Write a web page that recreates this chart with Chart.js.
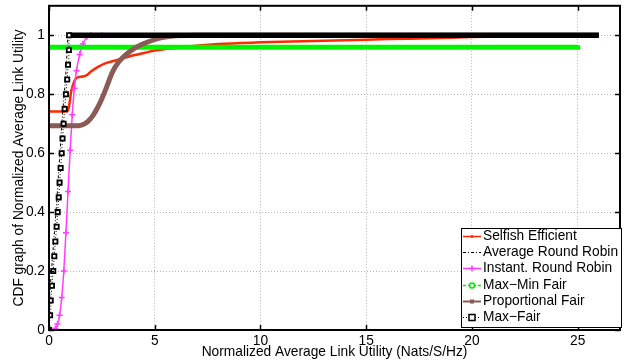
<!DOCTYPE html>
<html>
<head>
<meta charset="utf-8">
<script src="https://cdn.jsdelivr.net/npm/chart.js@4.4.0/dist/chart.umd.min.js"></script>
<style>
    html, body { margin: 0; padding: 0; background: #fff; }
    #wrap { width: 632px; height: 360px; }
</style>
</head>
<body>
<div id="wrap"><canvas id="cdfChart" width="632" height="360"></canvas></div>
<script>
// Series names (legend order)
const seriesNames = ['Selfish Efficient', 'Average Round Robin', 'Instant. Round Robin',
    'Max\u2212Min Fair', 'Proportional Fair', 'Max\u2212Fair'];

// Selfish Efficient
const selfishX = [0, 0.85, 0.95, 1.05, 1.15, 1.3, 1.6, 1.8, 2.0, 2.3, 2.6, 3.0, 3.5, 4.0, 4.5, 5.0, 6.0, 8.0, 10, 12, 14, 16, 18, 20, 22, 24, 26];
const selfishY = [0.741, 0.741, 0.76, 0.81, 0.835, 0.855, 0.86, 0.865, 0.878, 0.892, 0.903, 0.912, 0.922, 0.932, 0.94, 0.948, 0.957, 0.97, 0.976, 0.98, 0.983, 0.987, 0.99, 0.994, 0.997, 0.999, 1.0];

// Average Round Robin
const avgRrX = [0, 0, 0.02, 0.06, 0.12, 0.17, 0.22, 0.28, 0.33, 0.38, 0.42, 0.47, 0.52, 0.56, 0.61, 0.66, 0.72, 0.78, 0.82, 0.86, 0.9, 26];
const avgRrY = [0, 0.05, 0.1, 0.15, 0.2, 0.25, 0.3, 0.35, 0.4, 0.45, 0.5, 0.55, 0.6, 0.65, 0.7, 0.75, 0.8, 0.85, 0.9, 0.95, 1, 1];

// Instant. Round Robin
const instRrX = [0, 0.3, 0.4, 0.5, 0.6, 0.7, 0.8, 0.9, 1.0, 1.1, 1.2, 1.3, 1.45, 1.6, 1.8, 2.0, 2.5];
const instRrY = [0, 0.005, 0.02, 0.05, 0.11, 0.2, 0.33, 0.47, 0.61, 0.73, 0.82, 0.88, 0.935, 0.97, 0.995, 1, 1];

// Max-Min Fair
const maxMinX = [0, 25, 25];
const maxMinY = [0.959, 0.959, 0.966];

// Proportional Fair
const propX = [0, 1.4, 1.7, 1.9, 2.1, 2.3, 2.5, 2.7, 3.0, 3.3, 3.6, 4.0, 4.3, 4.7, 5.1, 5.5, 6.0, 7, 8, 10, 26];
const propY = [0.693, 0.693, 0.7, 0.712, 0.73, 0.755, 0.785, 0.82, 0.875, 0.91, 0.932, 0.954, 0.966, 0.978, 0.988, 0.994, 0.998, 1, 1, 1, 1];

// Max-Fair
const maxFairX = [0, 0.05, 0.08, 0.14, 0.2, 0.25, 0.3, 0.36, 0.41, 0.46, 0.5, 0.55, 0.6, 0.64, 0.69, 0.74, 0.8, 0.86, 0.9, 0.94, 0.95, 26];
const maxFairY = [0, 0.05, 0.1, 0.15, 0.2, 0.25, 0.3, 0.35, 0.4, 0.45, 0.5, 0.55, 0.6, 0.65, 0.7, 0.75, 0.8, 0.85, 0.9, 0.95, 1, 1];

// Tick labels
const xTicks = [0, 5, 10, 15, 20, 25];
const yTicks = [0, 0.2, 0.4, 0.6, 0.8, 1];

const toPoints = (xs, ys) => xs.map((x, i) => ({ x: x, y: ys[i] }));

Chart.defaults.font.family = '"Liberation Sans", Arial, Helvetica, sans-serif';
Chart.defaults.font.size = 13.5;
Chart.defaults.color = '#000';

// Frame with inward ticks (MATLAB style) plus the boxed legend inside the axes
const frameAndLegend = {
    id: 'frameAndLegend',
    afterDatasetsDraw(chart) {
        const ctx = chart.ctx;
        const a = chart.chartArea;
        const xs = chart.scales.x, ys = chart.scales.y;
        ctx.save();
        ctx.strokeStyle = '#000';
        ctx.lineWidth = 1.5;
        ctx.beginPath();
        xTicks.forEach(v => {
            const px = Math.round(xs.getPixelForValue(v)) + 0.5;
            ctx.moveTo(px, a.bottom); ctx.lineTo(px, a.bottom - 5);
            ctx.moveTo(px, a.top); ctx.lineTo(px, a.top + 5);
        });
        yTicks.forEach(v => {
            const py = Math.round(ys.getPixelForValue(v)) + 0.5;
            ctx.moveTo(a.left, py); ctx.lineTo(a.left + 5, py);
            ctx.moveTo(a.right, py); ctx.lineTo(a.right - 5, py);
        });
        ctx.stroke();
        ctx.lineWidth = 2;
        ctx.strokeRect(a.left, a.top, a.right - a.left, a.bottom - a.top);

        // legend
        const lx = 461, ly = 228, lw = 160, lh = 99, row = 16.2;
        ctx.fillStyle = '#fff';
        ctx.fillRect(lx, ly, lw, lh);
        ctx.lineWidth = 1;
        ctx.strokeRect(lx + 0.5, ly + 0.5, lw, lh);
        ctx.font = '13.75px "Liberation Sans", Arial, sans-serif';
        ctx.textBaseline = 'middle';
        chart.data.datasets.forEach((ds, i) => {
            const cy = Math.round(ly + 8 + i * row) + 0.5;
            const x0 = lx + 2, x1 = lx + 20, cx = (x0 + x1) / 2;
            ctx.strokeStyle = ds.legendColor;
            ctx.lineWidth = ds.legendWidth;
            ctx.setLineDash(ds.legendDash);
            ctx.beginPath(); ctx.moveTo(x0, cy); ctx.lineTo(x1, cy); ctx.stroke();
            ctx.setLineDash([]);
            ctx.lineWidth = 1.5;
            ctx.fillStyle = ds.legendColor;
            if (ds.legendMarker === 'dot') {
                ctx.beginPath(); ctx.arc(cx, cy, 1.5, 0, Math.PI * 2); ctx.fill();
            } else if (ds.legendMarker === 'cross') {
                ctx.beginPath();
                ctx.moveTo(cx - 3, cy); ctx.lineTo(cx + 3, cy);
                ctx.moveTo(cx, cy - 3); ctx.lineTo(cx, cy + 3);
                ctx.stroke();
            } else if (ds.legendMarker === 'circle') {
                ctx.fillStyle = '#fff';
                ctx.beginPath(); ctx.arc(cx, cy, 2.5, 0, Math.PI * 2); ctx.fill(); ctx.stroke();
            } else if (ds.legendMarker === 'square') {
                ctx.fillRect(cx - 2, cy - 2, 4, 4);
            } else if (ds.legendMarker === 'hollowSquare') {
                ctx.fillStyle = '#fff';
                ctx.fillRect(cx - 3, cy - 3, 6, 6);
                ctx.strokeRect(cx - 3, cy - 3, 6, 6);
            }
            ctx.fillStyle = '#000';
            ctx.fillText(ds.label, lx + 22, cy);
        });
        ctx.restore();
    }
};

const noPadding = s => { s.paddingTop = 0; s.paddingBottom = 0; s.paddingLeft = 0; s.paddingRight = 0; };

new Chart(document.getElementById('cdfChart').getContext('2d'), {
    type: 'line',
    data: {
        datasets: [{
            label: seriesNames[0],
            data: toPoints(selfishX, selfishY),
            borderColor: 'rgb(255,40,0)',
            borderWidth: 2.5,
            pointRadius: 0,
            cubicInterpolationMode: 'monotone',
            order: 6,
            legendColor: 'rgb(255,40,0)', legendWidth: 1.5, legendDash: [], legendMarker: 'dot'
        }, {
            label: seriesNames[1],
            data: toPoints(avgRrX, avgRrY),
            borderColor: '#000',
            borderWidth: 1,
            borderDash: [3, 2, 1, 2],
            pointRadius: 0,
            order: 5,
            legendColor: '#000', legendWidth: 1, legendDash: [3, 2, 1, 2], legendMarker: 'none'
        }, {
            label: seriesNames[2],
            data: toPoints(instRrX, instRrY),
            borderColor: 'rgb(255,60,255)',
            borderWidth: 1.5,
            pointStyle: 'cross',
            pointRadius: 3,
            pointBorderWidth: 1.5,
            pointBorderColor: 'rgb(255,60,255)',
            cubicInterpolationMode: 'monotone',
            order: 4,
            legendColor: 'rgb(255,60,255)', legendWidth: 1.5, legendDash: [], legendMarker: 'cross'
        }, {
            label: seriesNames[3],
            data: toPoints(maxMinX, maxMinY),
            borderColor: 'rgb(0,245,0)',
            borderWidth: 5,
            pointRadius: 0,
            order: 3,
            legendColor: 'rgb(0,235,0)', legendWidth: 1.5, legendDash: [3, 2], legendMarker: 'circle'
        }, {
            label: seriesNames[4],
            data: toPoints(propX, propY),
            borderColor: '#8a5a55',
            borderWidth: 5,
            pointRadius: 0,
            cubicInterpolationMode: 'monotone',
            order: 2,
            legendColor: '#8a5a55', legendWidth: 2, legendDash: [], legendMarker: 'square'
        }, {
            label: seriesNames[5],
            data: toPoints(maxFairX, maxFairY),
            borderColor: '#000',
            borderWidth: 1,
            segment: {
                borderWidth: c => c.p0.parsed.y >= 1 ? 5.5 : 1,
                borderDash: c => c.p0.parsed.y >= 1 ? [] : [1, 2]
            },
            pointStyle: 'rect',
            pointRadius: c => (c.parsed && c.parsed.x > 2) ? 0 : 3,
            pointBorderWidth: 1.8,
            pointBorderColor: '#000',
            pointBackgroundColor: '#fff',
            order: 1,
            legendColor: '#000', legendWidth: 1, legendDash: [1, 2], legendMarker: 'hollowSquare'
        }]
    },
    options: {
        responsive: false,
        animation: false,
        layout: { padding: { top: 5, right: 12, left: 0, bottom: 0 } },
        plugins: {
            legend: { display: false },
            tooltip: { enabled: false }
        },
        scales: {
            x: {
                type: 'linear',
                min: 0,
                max: 27,
                afterBuildTicks: s => { s.ticks = xTicks.map(v => ({ value: v })); },
                afterFit: s => { s.height = 30; noPadding(s); },
                ticks: { padding: 3, maxRotation: 0, font: { size: 13.75 }, callback: v => String(v) },
                grid: { color: '#b4b4b4', lineWidth: 1, drawTicks: false },
                border: { display: false, dash: [1, 2] },
                title: {
                    display: true,
                    text: 'Normalized Average Link Utility (Nats/S/Hz)',
                    font: { size: 13.75 },
                    padding: { top: 0, bottom: 0 }
                }
            },
            y: {
                type: 'linear',
                min: 0,
                max: 1.1,
                afterBuildTicks: s => { s.ticks = yTicks.map(v => ({ value: v })); },
                afterFit: s => { s.width = 49; noPadding(s); },
                ticks: { padding: 4, font: { size: 13.75 }, callback: v => String(v) },
                grid: { color: '#b4b4b4', lineWidth: 1, drawTicks: false },
                border: { display: false, dash: [1, 2] },
                title: {
                    display: true,
                    text: 'CDF graph of Normalized Average Link Utility',
                    font: { size: 13.75 },
                    padding: { top: 11, bottom: 0 }
                }
            }
        }
    },
    plugins: [frameAndLegend]
});
</script>
</body>
</html>
